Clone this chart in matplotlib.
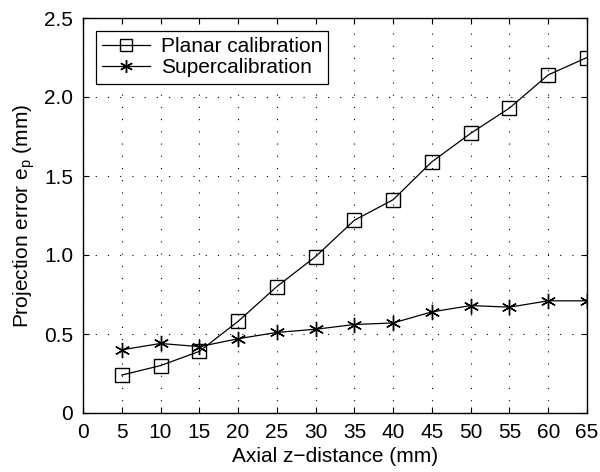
import numpy as np
import matplotlib
matplotlib.use("Agg")
import matplotlib.pyplot as plt
from matplotlib.ticker import FixedLocator

plt.rcParams['font.family'] = ['Liberation Sans', 'DejaVu Sans']
plt.rcParams['mathtext.fontset'] = 'custom'
plt.rcParams['mathtext.rm'] = 'Liberation Sans'
plt.rcParams['mathtext.it'] = 'Liberation Sans'

z_mm = [5, 10, 15, 20, 25, 30, 35, 40, 45, 50, 55, 60, 65]
planar = [0.24, 0.30, 0.39, 0.58, 0.80, 0.99, 1.22, 1.35, 1.59, 1.77, 1.93, 2.14, 2.25]
superc = [0.40, 0.44, 0.42, 0.47, 0.51, 0.53, 0.56, 0.57, 0.64, 0.68, 0.67, 0.71, 0.71]
x_ticks = list(range(0, 70, 5))
y_ticks = [0, 0.5, 1.0, 1.5, 2.0, 2.5]
y_labels = ['0', '0.5', '1.0', '1.5', '2.0', '2.5']

fs = 15

fig = plt.figure(figsize=(6, 4.72), dpi=100)
ax = fig.add_axes([83/600, 1 - 413/472, 504/600, 395/472])

ax.plot(z_mm, planar, color='black', lw=0.9, marker='s', ms=9.5,
        mfc='none', mec='black', mew=1.0, label='Planar calibration')
ax.plot(z_mm, superc, color='black', lw=0.9, marker=(6, 2, 0), ms=11,
        mec='black', mew=1.0, label='Supercalibration')

ax.set_xlim(0, 65)
ax.set_ylim(0, 2.5)
ax.xaxis.set_major_locator(FixedLocator(x_ticks))
ax.set_yticks(y_ticks)
ax.set_yticklabels(y_labels)
ax.tick_params(direction='in', top=True, right=True, labelsize=fs, length=4, width=0.8)
ax.tick_params(axis='x', pad=7)
ax.tick_params(axis='y', pad=7)
ax.grid(True, linestyle=(0, (1, 10)), color='black', lw=0.8)
for s in ax.spines.values():
    s.set_linewidth(1.0)

ax.set_xlabel('Axial z\u2212distance (mm)', fontsize=fs, labelpad=4)
ax.set_ylabel(r'Projection error e$_\mathrm{p}$ (mm)', fontsize=fs, labelpad=5)

leg = ax.legend(loc='upper left', bbox_to_anchor=(13/504, 1 - 13/395), fontsize=fs,
                fancybox=False, framealpha=1, edgecolor='black', markerscale=0.85,
                handlelength=2.3, handletextpad=0.5, borderpad=0.3,
                labelspacing=0.1, borderaxespad=0)
leg.get_frame().set_linewidth(0.9)

fig.savefig('out.png', dpi=100)
